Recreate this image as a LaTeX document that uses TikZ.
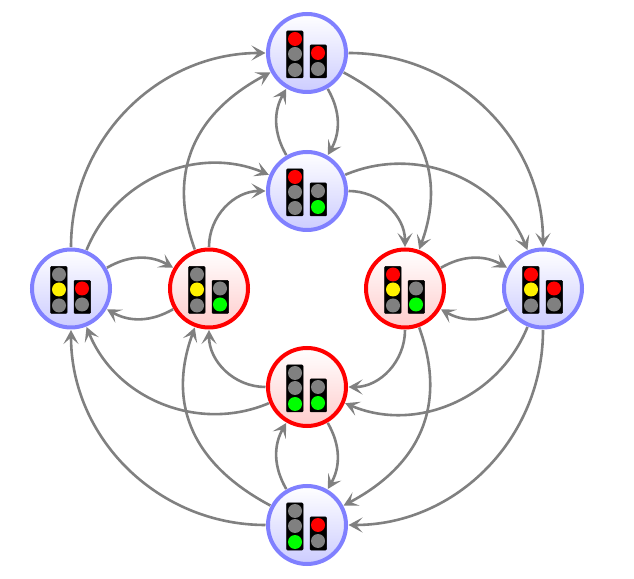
\documentclass[tikz,border=0pt]{standalone}
\usetikzlibrary{arrows.meta}
\definecolor{ringblue}{HTML}{8080FF}
\definecolor{fillblue}{HTML}{CCCCFF}
\definecolor{fillred}{HTML}{FFCCCC}
\definecolor{lampoff}{HTML}{808080}
\tikzset{
  x=1pt,y=1pt,
  statebase/.style={circle,minimum size=78pt,inner sep=0pt,outer sep=2.5pt,line width=4pt,draw},
  safe/.style={statebase,draw=ringblue,top color=white,bottom color=fillblue},
  unsafe/.style={statebase,draw=red,top color=white,bottom color=fillred},
  edgeline/.style={draw=gray,line width=2.6pt,-{Stealth[length=14pt,width=15pt,inset=6.5pt]}},
  housing/.style={fill=black,draw=black,rounded corners=1pt,line width=0.5pt},
  lamp/.style={circle,inner sep=0pt,minimum size=14pt},
  pics/lights/.style n args={5}{code={
    \draw[housing] (-20.5,-25) rectangle (-4,22);
    \draw[housing] (3,-25) rectangle (19.5,8);
    \node[lamp,fill=#1] at (-12,14) {};
    \node[lamp,fill=#2] at (-12,-1) {};
    \node[lamp,fill=#3] at (-12,-17) {};
    \node[lamp,fill=#4] at (11,0) {};
    \node[lamp,fill=#5] at (11,-16) {};
  }}
}
\begin{document}
\begin{tikzpicture}
\useasboundingbox (0,0) rectangle (634,578);
\node[safe] (top) at (307,525) {};
\node[safe] (ntwo) at (307,387) {};
\node[safe] (left) at (71,289.5) {};
\node[unsafe] (ltwo) at (209,289.5) {};
\node[unsafe] (rtwo) at (405,289.5) {};
\node[safe] (right) at (543,289.5) {};
\node[unsafe] (btwo) at (307,191) {};
\node[safe] (bottom) at (307,53) {};
\pic at (top) {lights={red}{lampoff}{lampoff}{red}{lampoff}};
\pic at (ntwo) {lights={red}{lampoff}{lampoff}{lampoff}{green}};
\pic at (left) {lights={lampoff}{yellow}{lampoff}{red}{lampoff}};
\pic at (ltwo) {lights={lampoff}{yellow}{lampoff}{lampoff}{green}};
\pic at (rtwo) {lights={red}{yellow}{lampoff}{lampoff}{green}};
\pic at (right) {lights={red}{yellow}{lampoff}{red}{lampoff}};
\pic at (btwo) {lights={lampoff}{lampoff}{green}{lampoff}{green}};
\pic at (bottom) {lights={lampoff}{lampoff}{green}{red}{lampoff}};
\path[edgeline] (top) to[out=0,in=90] (right);
\path[edgeline] (left) to[out=90,in=180] (top);
\path[edgeline] (bottom) to[out=180,in=-90] (left);
\path[edgeline] (right) to[out=-90,in=0] (bottom);
\path[edgeline] (top) to[out=-60,in=60] (ntwo);
\path[edgeline] (ntwo) to[out=120,in=-120] (top);
\path[edgeline] (btwo) to[out=-60,in=60] (bottom);
\path[edgeline] (bottom) to[out=120,in=-120] (btwo);
\path[edgeline] (top) to[out=-28,in=70,looseness=1.12] (rtwo);
\path[edgeline] (ntwo) to[out=23,in=112] (right);
\path[edgeline] (ntwo) to[out=0,in=90] (rtwo);
\path[edgeline] (left) to[out=68,in=157] (ntwo);
\path[edgeline] (ltwo) to[out=110,in=208,looseness=1.12] (top);
\path[edgeline] (ltwo) to[out=90,in=180] (ntwo);
\path[edgeline] (left) to[out=30,in=150] (ltwo);
\path[edgeline] (ltwo) to[out=210,in=-30] (left);
\path[edgeline] (rtwo) to[out=30,in=150] (right);
\path[edgeline] (right) to[out=210,in=-30] (rtwo);
\path[edgeline] (rtwo) to[out=-90,in=0] (btwo);
\path[edgeline] (rtwo) to[out=-70,in=28,looseness=1.12] (bottom);
\path[edgeline] (right) to[out=-112,in=-23] (btwo);
\path[edgeline] (btwo) to[out=180,in=-90] (ltwo);
\path[edgeline] (btwo) to[out=203,in=-68] (left);
\path[edgeline] (bottom) to[out=152,in=-110,looseness=1.12] (ltwo);
\end{tikzpicture}
\end{document}
